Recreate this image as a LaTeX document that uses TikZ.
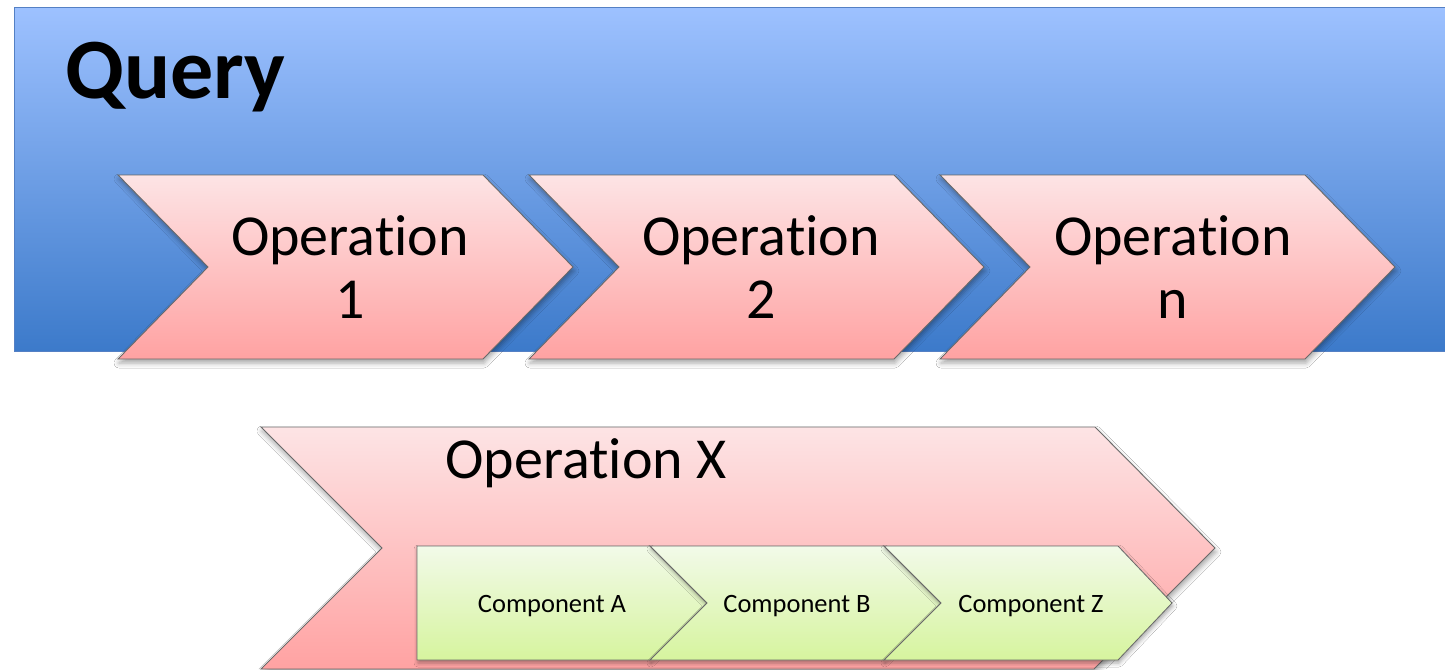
\documentclass[tikz,border=0pt]{standalone}
\usepackage{fontspec}
\setmainfont{Carlito}[Ligatures=NoCommon]
\usetikzlibrary{shadows.blur}

\definecolor{qTop}{RGB}{157,193,255}
\definecolor{qBot}{RGB}{60,122,202}
\definecolor{qEdge}{RGB}{84,128,196}
\definecolor{pinkTop}{RGB}{253,228,229}
\definecolor{pinkBot}{RGB}{255,162,162}
\definecolor{greenTop}{RGB}{242,250,233}
\definecolor{greenBot}{RGB}{214,244,158}
\definecolor{edgeGrey}{RGB}{105,105,105}

\begin{document}
\begin{tikzpicture}[x=1pt,y=-1pt,
  opshape/.style={top color=pinkTop,bottom color=pinkBot,draw=edgeGrey,line width=0.9pt,
    blur shadow={shadow xshift=1pt,shadow yshift=-4pt,shadow blur radius=5pt,shadow opacity=35}},
  compshape/.style={top color=greenTop,bottom color=greenBot,draw=edgeGrey,line width=0.8pt,
    blur shadow={shadow xshift=1pt,shadow yshift=-3pt,shadow blur radius=4pt,shadow opacity=35}},
  querytext/.style={font=\fontsize{86}{100}\selectfont\bfseries,inner sep=0pt,anchor=base west},
  optext/.style={font=\fontsize{58}{63}\selectfont,align=center,inner sep=0pt,anchor=base},
  comptext/.style={font=\fontsize{26.5}{30}\selectfont,inner sep=0pt,anchor=base}]

\useasboundingbox (0,0) rectangle (1445,669);
\fill[white] (0,0) rectangle (1445,669);

% Query panel
\draw[top color=qTop,bottom color=qBot,draw=qEdge,line width=1pt] (14,8) rectangle (1452,351);
\node[querytext] (query) at (65,99) {Query};

% Operation chevrons (node base = baseline of the last line)
\path[opshape] (118,175) -- (483,175) -- (573,267) -- (483,359) -- (118,359) -- (208,267) -- cycle;
\path[opshape] (529,175) -- (894,175) -- (984,267) -- (894,359) -- (529,359) -- (619,267) -- cycle;
\path[opshape] (940,175) -- (1305,175) -- (1395,267) -- (1305,359) -- (940,359) -- (1030,267) -- cycle;
\node[optext] (op1) at (350,318) {Operation\\1};
\node[optext] (op2) at (761,318) {Operation\\2};
\node[optext] (opn) at (1173,318) {Operation\\n};

% Operation X with its components
\path[opshape] (261,427) -- (1095,427) -- (1215,548) -- (1094,669) -- (261,669) -- (382,548) -- cycle;
\node[optext] (opx) at (586,478) {Operation X};

\path[compshape] (417,546) -- (650,546) -- (707,603) -- (650,660) -- (417,660) -- cycle;
\path[compshape] (650,546) -- (884,546) -- (941,603) -- (884,660) -- (650,660) -- (707,603) -- cycle;
\path[compshape] (884,546) -- (1118,546) -- (1172,603) -- (1118,660) -- (884,660) -- (941,603) -- cycle;
\node[comptext] (ca) at (552,612) {Component A};
\node[comptext] (cb) at (797,612) {Component B};
\node[comptext] (cz) at (1031,612) {Component Z};
\end{tikzpicture}
\end{document}
